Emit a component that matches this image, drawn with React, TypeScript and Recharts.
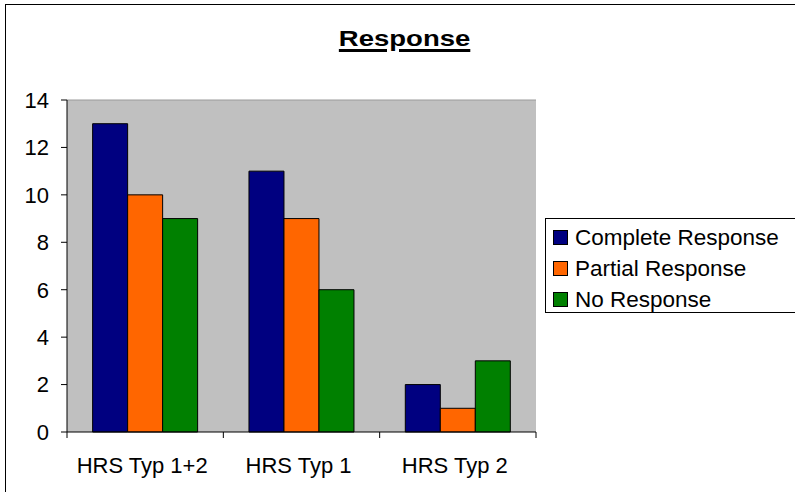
import React from 'react';
import { BarChart, Bar, XAxis, YAxis, CartesianGrid, Legend, ReferenceLine } from 'recharts';

const categories = ['HRS Typ 1+2', 'HRS Typ 1', 'HRS Typ 2'];
const completeResponse = [13, 11, 2];
const partialResponse = [10, 9, 1];
const noResponse = [9, 6, 3];
const yTicks = [0, 2, 4, 6, 8, 10, 12, 14];

const series = [
  { key: 'complete', name: 'Complete Response', color: '#000080' },
  { key: 'partial', name: 'Partial Response', color: '#FF6600' },
  { key: 'none', name: 'No Response', color: '#008000' },
];

const data = categories.map((name, i) => ({
  name,
  complete: completeResponse[i],
  partial: partialResponse[i],
  none: noResponse[i],
}));

const W = 795;
const H = 492;
const MARGIN = { top: 100, right: 259, bottom: 0, left: 0 };
const Y_AXIS_W = 67;
const X_AXIS_H = 60;
const BAND = (W - MARGIN.right - Y_AXIS_W) / categories.length;
const FONT = '"Liberation Sans", Arial, sans-serif';

// category label centred, tick marks on the band edges
function CategoryTick(props: any) {
  const { x, y, payload, index } = props;
  const left = x - BAND / 2;
  return (
    <g>
      <line x1={left} y1={y} x2={left} y2={y + 6} stroke="#000" />
      {index === categories.length - 1 && (
        <line x1={x + BAND / 2} y1={y} x2={x + BAND / 2} y2={y + 6} stroke="#000" />
      )}
      <text x={x - 3} y={y + 41} textAnchor="middle" fontSize={22} fontFamily={FONT} fill="#000">
        {payload.value}
      </text>
    </g>
  );
}

function LegendBox() {
  return (
    <div
      style={{
        width: 260,
        height: 95,
        boxSizing: 'border-box',
        border: '1px solid #000',
        background: '#fff',
        paddingTop: 3,
        paddingLeft: 7,
        fontFamily: FONT,
        fontSize: 22.5,
        color: '#000',
      }}
    >
      {series.map((s) => (
        <div key={s.key} style={{ display: 'flex', alignItems: 'center', height: 31, whiteSpace: 'nowrap' }}>
          <span
            style={{
              display: 'inline-block',
              width: 13,
              height: 13,
              background: s.color,
              border: '1px solid #000',
              marginRight: 7,
            }}
          />
          {s.name}
        </div>
      ))}
    </div>
  );
}

export default function App() {
  return (
    <div style={{ position: 'absolute', left: 0, top: 0, width: W, height: H, overflow: 'hidden', background: '#fff' }}>
      <div
        style={{
          position: 'absolute',
          left: 5,
          top: 4,
          width: W + 20,
          height: H + 20,
          border: '1px solid #000',
        }}
      />
      <div
        style={{
          position: 'absolute',
          left: 0,
          width: 810,
          top: 26,
          textAlign: 'center',
        }}
      >
        <span
          style={{
            display: 'inline-block',
            fontFamily: FONT,
            fontWeight: 'bold',
            fontSize: 22,
            textDecoration: 'underline',
            textDecorationThickness: 3,
            textUnderlineOffset: 3,
            transform: 'scaleX(1.25)',
          }}
        >
          Response
        </span>
      </div>
      <BarChart
        width={W}
        height={H}
        data={data}
        margin={MARGIN}
        barCategoryGap="16.4%"
        barGap={0}
        style={{ position: 'absolute', left: 0, top: 0 }}
      >
        <CartesianGrid fill="#C0C0C0" horizontal={false} vertical={false} />
        <ReferenceLine y={14} stroke="#9a9a9a" />
        <XAxis
          dataKey="name"
          height={X_AXIS_H}
          axisLine={{ stroke: '#000' }}
          tickLine={false}
          tickSize={0}
          tickMargin={0}
          tick={<CategoryTick />}
          interval={0}
        />
        <YAxis
          width={Y_AXIS_W}
          domain={[0, 14]}
          ticks={yTicks}
          interval={0}
          axisLine={{ stroke: '#000' }}
          tickLine={{ stroke: '#000' }}
          tickSize={6}
          tickMargin={12}
          tick={{ fontSize: 22, fontFamily: FONT, fill: '#000' }}
        />
        <YAxis
          yAxisId="edge"
          orientation="right"
          width={0}
          domain={[0, 14]}
          tick={false}
          tickLine={false}
          axisLine={{ stroke: '#9a9a9a' }}
        />
        {series.map((s) => (
          <Bar
            key={s.key}
            dataKey={s.key}
            name={s.name}
            fill={s.color}
            stroke="#000"
            strokeWidth={1}
            isAnimationActive={false}
          />
        ))}
        <Legend
          layout="horizontal"
          verticalAlign="middle"
          align="center"
          content={<LegendBox />}
          wrapperStyle={{ left: 545, top: 218, width: 260, height: 95 }}
        />
      </BarChart>
    </div>
  );
}
